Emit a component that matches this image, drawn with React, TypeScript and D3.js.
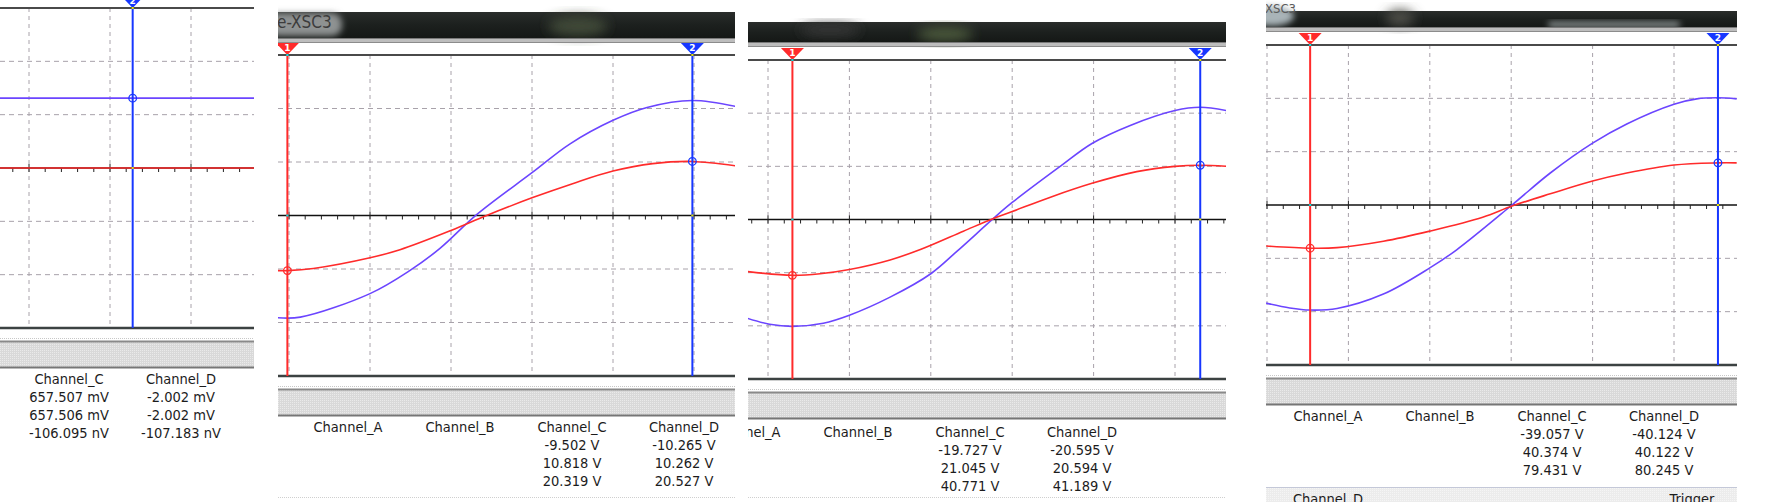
import React from 'react';
import * as d3 from 'd3';

type Pt = [number, number]; // [x in divisions, y in divisions]

const channelNames = ['Channel_A', 'Channel_B', 'Channel_C', 'Channel_D'];

const p1Red: Pt[] = [[-0.36, 0], [2.78, 0]];
const p1Blue: Pt[] = [[-0.36, 1.31], [2.78, 1.31]];

const p2Red: Pt[] = [
  [-1.14, -1.03], [-1.02, -1.03], [-0.7, -0.99], [0, -0.79], [0.37, -0.64], [1.0, -0.28],
  [1.44, 0], [2.0, 0.33], [2.51, 0.6], [3.0, 0.83], [3.49, 0.97], [3.98, 1.01], [4.51, 0.93],
];
const p2Blue: Pt[] = [
  [-1.14, -1.91], [-0.86, -1.9], [0, -1.46], [0.49, -1.03], [0.86, -0.62], [1.32, 0.02],
  [2.0, 0.8], [2.47, 1.34], [3.0, 1.78], [3.42, 2.02], [3.98, 2.15], [4.51, 2.04],
];

const p3Red: Pt[] = [
  [-0.25, -0.98], [0.3, -1.05], [0.64, -1.02], [1.0, -0.94], [1.5, -0.76], [1.88, -0.56],
  [2.4, -0.22], [2.77, 0.02], [3.0, 0.15], [3.47, 0.42], [3.98, 0.68], [4.53, 0.9],
  [5.0, 1.0], [5.31, 1.02], [5.63, 1.0],
];
const p3Blue: Pt[] = [
  [-0.25, -1.86], [0.02, -1.97], [0.3, -2.01], [0.68, -1.95], [1.0, -1.8], [1.5, -1.46],
  [2.0, -1.02], [2.32, -0.6], [2.77, 0.02], [3.0, 0.32], [3.59, 1.0], [3.98, 1.43],
  [4.45, 1.77], [5.0, 2.05], [5.31, 2.11], [5.63, 2.05],
];

const p4Red: Pt[] = [
  [-0.01, -0.77], [0.53, -0.81], [0.86, -0.8], [1.43, -0.68], [2.0, -0.49], [2.65, -0.23],
  [3.01, -0.02], [3.48, 0.21], [4.0, 0.45], [4.42, 0.6], [5.0, 0.75], [5.54, 0.79], [5.77, 0.79],
];
const p4Blue: Pt[] = [
  [-0.01, -1.84], [0.28, -1.93], [0.53, -1.97], [0.86, -1.94], [1.43, -1.67], [2.0, -1.18],
  [2.33, -0.84], [3.01, 0], [3.48, 0.6], [4.0, 1.16], [4.42, 1.52], [5.0, 1.89],
  [5.28, 1.99], [5.54, 2.01], [5.77, 1.99],
];

// cursor positions (divisions) and the trace value where each cursor marks it
const p1Cursors = [{ id: 2, x: 1.28, y: 1.31 }];
const p2Cursors = [{ id: 1, x: -1.02, y: -1.03 }, { id: 2, x: 3.98, y: 1.01 }];
const p3Cursors = [{ id: 1, x: 0.3, y: -1.05 }, { id: 2, x: 5.31, y: 1.02 }];
const p4Cursors = [{ id: 1, x: 0.53, y: -0.81 }, { id: 2, x: 5.54, y: 0.79 }];

const p1ReadC = ['657.507 mV', '657.506 mV', '-106.095 nV'];
const p1ReadD = ['-2.002 mV', '-2.002 mV', '-107.183 nV'];
const p2ReadC = ['-9.502 V', '10.818 V', '20.319 V'];
const p2ReadD = ['-10.265 V', '10.262 V', '20.527 V'];
const p3ReadC = ['-19.727 V', '21.045 V', '40.771 V'];
const p3ReadD = ['-20.595 V', '20.594 V', '41.189 V'];
const p4ReadC = ['-39.057 V', '40.374 V', '79.431 V'];
const p4ReadD = ['-40.124 V', '40.122 V', '80.245 V'];

// ---- layout of each crop ----
const W = 1766;
const H = 502;
const RED = '#ff2b2b';
const TRACE_BLUE = '#6b45ff';
const CURSOR_BLUE = '#1737ff';
const FONT = "'DejaVu Sans Condensed', 'DejaVu Sans', sans-serif";
const COL_STEP = 112;

interface PanelCfg {
  left: number; right: number; top: number; bottom: number;
  gridX0: number; divW: number;
  bar?: [number, number];
  title?: string;
  labelA: number; readDy: number;
  footer?: 'line' | 'bar';
}

const PANELS: PanelCfg[] = [
  { left: 0, right: 254, top: 8, bottom: 328, gridX0: 29, divW: 81, labelA: -155, readDy: 51 },
  { left: 278, right: 735, top: 55, bottom: 376, gridX0: 370, divW: 81, bar: [12, 38], title: 'e-XSC3', labelA: 348, readDy: 51, footer: 'line' },
  { left: 748, right: 1226, top: 60, bottom: 379, gridX0: 768, divW: 81.4, bar: [22, 42], labelA: 746, readDy: 53, footer: 'line' },
  { left: 1266, right: 1737, top: 45, bottom: 365, gridX0: 1267, divW: 81.4, bar: [11, 27], title: 'XSC3', labelA: 1328, readDy: 51, footer: 'bar' },
];

const PANEL_DATA = [
  { red: p1Red, blue: p1Blue, cursors: p1Cursors, readC: p1ReadC, readD: p1ReadD, flat: true },
  { red: p2Red, blue: p2Blue, cursors: p2Cursors, readC: p2ReadC, readD: p2ReadD, flat: false },
  { red: p3Red, blue: p3Blue, cursors: p3Cursors, readC: p3ReadC, readD: p3ReadD, flat: false },
  { red: p4Red, blue: p4Blue, cursors: p4Cursors, readC: p4ReadC, readD: p4ReadD, flat: false },
];

const Panel: React.FC<{ idx: number }> = ({ idx }) => {
  const cfg = PANELS[idx];
  const data = PANEL_DATA[idx];
  const x = d3.scaleLinear().domain([0, 1]).range([cfg.gridX0, cfg.gridX0 + cfg.divW]);
  const y = d3.scaleLinear().domain([-3, 3]).range([cfg.bottom, cfg.top]);
  const d0 = x.invert(cfg.left);
  const d1 = x.invert(cfg.right);
  const vGrid = d3.range(Math.ceil(d0), Math.floor(d1) + 1);
  const minor = d3.range(Math.ceil(d0 * 5), Math.floor(d1 * 5) + 1).map(v => v / 5);
  const hGrid = [-2, -1, 1, 2];
  const line = d3.line<Pt>()
    .x(d => x(d[0]))
    .y(d => y(d[1]))
    .curve(data.flat ? d3.curveLinear : d3.curveCatmullRom.alpha(0.5));
  const w = cfg.right - cfg.left;
  const clipId = `clip-${idx}`;
  const yr = cfg.bottom + cfg.readDy;
  // only columns that reach into this crop
  const colX = (i: number) => cfg.labelA + i * COL_STEP;
  const visible = (i: number) => colX(i) + 40 > cfg.left && colX(i) - 40 < cfg.right;

  return (
    <g clipPath={`url(#${clipId})`}>
      <defs>
        <clipPath id={clipId}>
          <rect x={cfg.left} y={0} width={w} height={H} />
        </clipPath>
      </defs>

      {/* window title strip */}
      {cfg.bar && (
        <g>
          <rect x={cfg.left} y={cfg.bar[0]} width={w} height={cfg.bar[1] - cfg.bar[0]} fill="url(#barGrad)" />
          {idx === 1 && (
            <g>
              <rect x={cfg.left - 10} y={cfg.bar[0] + 1} width={74} height={cfg.bar[1] - cfg.bar[0] - 3} rx={10} fill="#8e9292" filter="url(#blur3)" />
              <ellipse cx={cfg.left + 300} cy={cfg.bar[0] + 14} rx={30} ry={10} fill="#404838" filter="url(#blur6)" />
            </g>
          )}
          {idx === 2 && (
            <g>
              <ellipse cx={945} cy={34} rx={28} ry={7} fill="#4e5c3e" filter="url(#blur6)" />
              <ellipse cx={830} cy={30} rx={30} ry={6} fill="#383838" filter="url(#blur6)" />
            </g>
          )}
          {idx === 3 && (
            <g>
              <ellipse cx={1272} cy={16} rx={22} ry={10} fill="#a9b4b8" filter="url(#blur3)" />
              <rect x={1548} y={22} width={132} height={5} rx={3} fill="#9aa2a2" filter="url(#blur3)" />
              <ellipse cx={1400} cy={18} rx={14} ry={8} fill="#50504a" filter="url(#blur6)" />
            </g>
          )}
          {cfg.title && (
            <text
              x={cfg.left - 1}
              y={idx === 1 ? cfg.bar[0] + 15.5 : cfg.bar[0] + 2}
              fontFamily={FONT}
              fontSize={idx === 1 ? 17 : 13}
              fill={idx === 1 ? '#3c3c3c' : '#5a5a5a'}
            >
              {cfg.title}
            </text>
          )}
          <rect x={cfg.left} y={cfg.bar[1]} width={w} height={5} fill="#bdbdbd" />
          <line x1={cfg.left} x2={cfg.right} y1={cfg.bar[1] + 0.5} y2={cfg.bar[1] + 0.5} stroke="#7a7a7a" />
          <line x1={cfg.left} x2={cfg.right} y1={cfg.bar[1] + 4.5} y2={cfg.bar[1] + 4.5} stroke="#8c8c8c" />
        </g>
      )}

      {/* grid */}
      {hGrid.map(v => (
        <line key={`h${v}`} x1={cfg.left} x2={cfg.right} y1={y(v)} y2={y(v)}
          stroke="#a8a2aa" strokeWidth={1} strokeDasharray="5,4" />
      ))}
      {vGrid.map(v => (
        <line key={`v${v}`} x1={x(v)} x2={x(v)} y1={cfg.top} y2={cfg.bottom}
          stroke="#a8a2aa" strokeWidth={1} strokeDasharray="4,4" />
      ))}

      {/* centre axis with minor ticks */}
      <line x1={cfg.left} x2={cfg.right} y1={y(0)} y2={y(0)} stroke="#111" strokeWidth={1.5} />
      {minor.map(v => {
        const major = Math.abs(v - Math.round(v)) < 1e-6;
        return (
          <line key={`t${v}`} x1={x(v)} x2={x(v)}
            y1={major ? y(0) - 4 : y(0)} y2={y(0) + 4}
            stroke="#222" strokeWidth={1} />
        );
      })}

      {/* frame */}
      <line x1={cfg.left} x2={cfg.right} y1={cfg.top} y2={cfg.top} stroke="#4a4a4a" strokeWidth={2} />
      <line x1={cfg.left} x2={cfg.right} y1={cfg.bottom} y2={cfg.bottom} stroke="#3c4242" strokeWidth={2.5} />

      {/* traces */}
      <path d={line(data.blue) || ''} fill="none" stroke={TRACE_BLUE} strokeWidth={1.6} />
      <path d={line(data.red) || ''} fill="none" stroke={RED} strokeWidth={1.6} />

      {/* cursors */}
      {data.cursors.map(c => {
        const cx = x(c.x);
        const col = c.id === 1 ? RED : CURSOR_BLUE;
        const dot = c.id === 1 ? '#00e6e6' : '#e6e600';
        return (
          <g key={`c${c.id}`}>
            <line x1={cx} x2={cx} y1={cfg.top} y2={cfg.bottom} stroke={col} strokeWidth={2} />
            <path d={`M${cx - 11.5},${cfg.top - 12}H${cx + 11.5}L${cx},${cfg.top}Z`} fill={col} />
            <text x={cx} y={cfg.top - 4.5} textAnchor="middle" fontFamily="'DejaVu Sans', sans-serif"
              fontWeight="bold" fontSize={9} fill="#fff">{c.id}</text>
            <rect x={cx - 1} y={cfg.top - 1} width={2} height={2} fill={dot} />
            <rect x={cx - 1} y={y(0) - 1} width={2} height={2} fill={dot} />
            <circle cx={cx} cy={y(c.y)} r={3.8} fill="none" stroke={col} strokeWidth={1.3} />
          </g>
        );
      })}

      {/* readout strip */}
      <line x1={cfg.left} x2={cfg.right} y1={cfg.bottom + 10.5} y2={cfg.bottom + 10.5}
        stroke="#c8c8c8" strokeDasharray="1,1" />
      <rect x={cfg.left} y={cfg.bottom + 13} width={w} height={26} fill="#d9d9d9" />
      <rect x={cfg.left} y={cfg.bottom + 13} width={w} height={26} fill="url(#dots)" />
      <line x1={cfg.left} x2={cfg.right} y1={cfg.bottom + 13.5} y2={cfg.bottom + 13.5} stroke="#8a8a8a" strokeWidth={2} />
      <line x1={cfg.left} x2={cfg.right} y1={cfg.bottom + 39.5} y2={cfg.bottom + 39.5} stroke="#767676" strokeWidth={2} />

      {channelNames.map((name, i) => visible(i) && (
        <text key={name} x={colX(i)} y={yr} dy="0.36em" textAnchor="middle"
          fontFamily={FONT} fontSize={14.5} fill="#1c1c1c">{name}</text>
      ))}
      {[data.readC, data.readD].map((vals, j) =>
        vals.map((v, k) => (
          <text key={`r${j}-${k}`} x={colX(2 + j)} y={yr + 18 * (k + 1)} dy="0.36em"
            textAnchor="middle" fontFamily={FONT} fontSize={14.5} fill="#1c1c1c">{v}</text>
        ))
      )}

      {cfg.footer === 'line' && (
        <line x1={cfg.left} x2={cfg.right} y1={H - 4.5} y2={H - 4.5} stroke="#cfcfcf" strokeDasharray="1,1" />
      )}
      {cfg.footer === 'bar' && (
        <g>
          <rect x={cfg.left} y={487} width={w} height={H - 487} fill="#ececec" />
          <rect x={cfg.left} y={487} width={w} height={H - 487} fill="url(#dots)" />
          <line x1={cfg.left} x2={cfg.right} y1={487.5} y2={487.5} stroke="#c4c8d8" />
          <text x={colX(0)} y={504} textAnchor="middle" fontFamily={FONT} fontSize={14.5} fill="#1c1c1c">Channel_D</text>
          <text x={1692} y={504} textAnchor="middle" fontFamily={FONT} fontSize={14.5} fill="#1c1c1c">Trigger</text>
        </g>
      )}
    </g>
  );
};

export default function App() {
  return (
    <div style={{ position: 'fixed', left: 0, top: 0, width: W, height: H, background: '#fff' }}>
      <svg width={W} height={H} style={{ display: 'block' }}>
        <defs>
          <linearGradient id="barGrad" x1="0" y1="0" x2="0" y2="1">
            <stop offset="0" stopColor="#2a2d2b" />
            <stop offset="0.5" stopColor="#1c201e" />
            <stop offset="1" stopColor="#151816" />
          </linearGradient>
          <filter id="blur3" x="-50%" y="-50%" width="200%" height="200%">
            <feGaussianBlur stdDeviation="3" />
          </filter>
          <filter id="blur6" x="-50%" y="-50%" width="200%" height="200%">
            <feGaussianBlur stdDeviation="6" />
          </filter>
          <pattern id="dots" width="2" height="2" patternUnits="userSpaceOnUse">
            <rect width="1" height="1" fill="#ffffff" opacity="0.45" />
          </pattern>
        </defs>
        <rect width={W} height={H} fill="#fff" />
        {PANELS.map((_, i) => <Panel key={i} idx={i} />)}
      </svg>
    </div>
  );
}
